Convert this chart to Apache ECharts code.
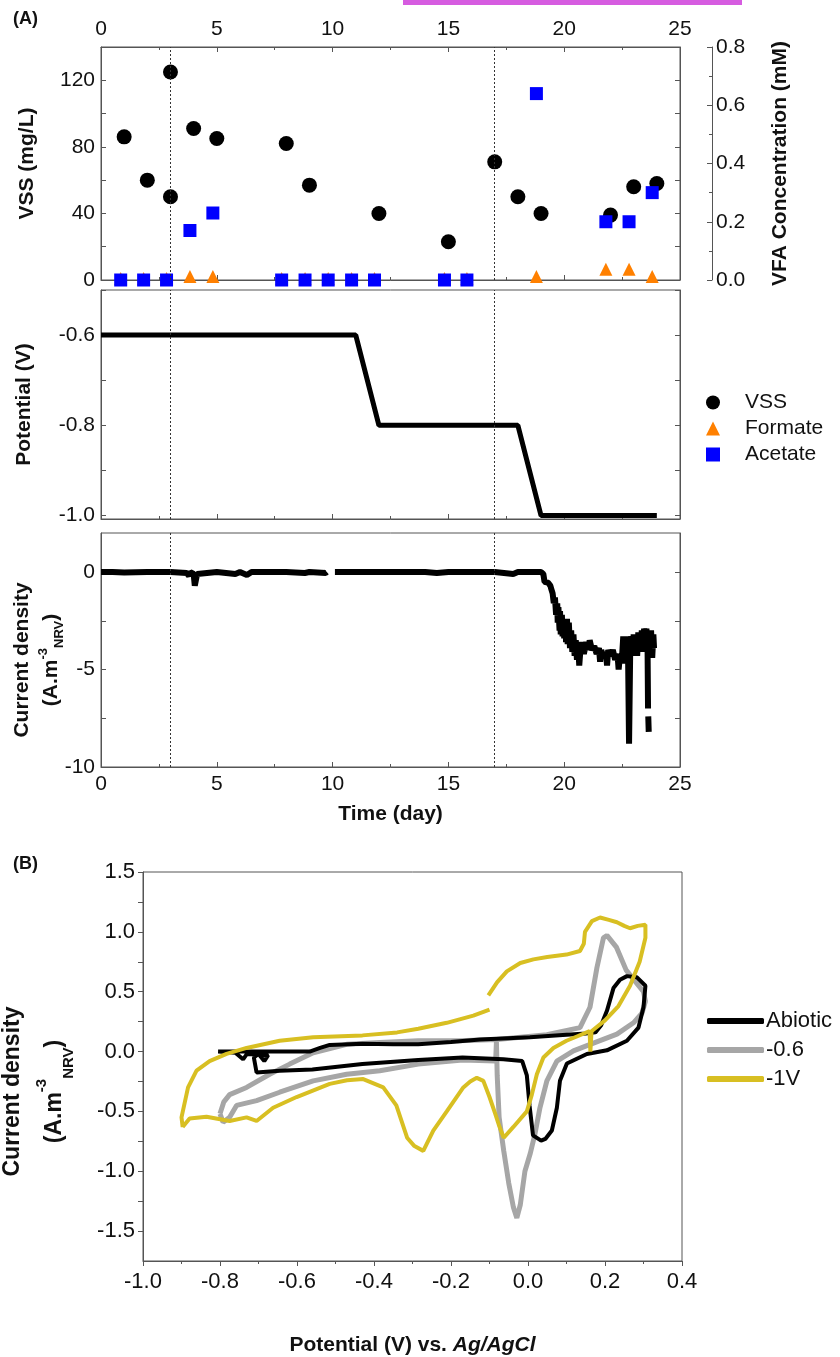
<!DOCTYPE html>
<html>
<head>
<meta charset="utf-8">
<script src="https://cdn.jsdelivr.net/npm/echarts@6.0.0/dist/echarts.min.js"></script>
<style>
  html, body { margin: 0; padding: 0; background: #fff; }
  #chart { width: 840px; height: 1357px; }
</style>
</head>
<body>
<div id="chart"></div>
<script>
// ---- panel A : VSS / VFA ----
const vssDays = [1, 2, 3, 3, 4, 5, 8, 9, 12, 15, 17, 18, 19, 22, 23, 24]
const vssValues = [86, 60, 125, 50, 91, 85, 82, 57, 40, 23, 71, 50, 40, 39, 56, 58]
const vfaDays = [0.85, 1.84, 2.83, 3.84, 4.83, 7.8, 8.81, 9.81, 10.82, 11.81, 14.83, 15.8, 18.8, 21.8, 22.8, 23.8]
const formateValues = [0.005, 0.005, 0.005, 0.012, 0.012, 0.005, 0.005, 0.005, 0.005, 0.005, 0.005, 0.005, 0.012, 0.037, 0.037, 0.012]
const acetateValues = [0, 0, 0, 0.17, 0.23, 0, 0, 0, 0, 0, 0, 0, 0.64, 0.2, 0.2, 0.3]

// ---- panel A : applied potential ----
const potentialDays = [0, 11, 12, 18, 19, 24]
const potentialValues = [-0.6, -0.6, -0.8, -0.8, -1.0, -1.0]

// ---- panel A : current density (null = gap in the record) ----
const currentDays = [0, 0.5, 1, 2, 3, 3.7, 3.8, 3.85, 4.0, 4.05, 4.12, 4.15, 4.2, 5, 5.8, 6, 6.3, 6.5, 7, 8, 8.8, 9, 9.7, 9.75, 9.9,
  10.1, 10.5, 11, 12, 13, 14, 14.5, 15, 16, 17, 17.8, 18, 18.5, 19.0,
  19.1, 19.15, 19.3, 19.4, 19.45, 19.5, 19.55, 19.6, 19.65, 19.7, 19.72, 19.75, 19.8, 19.82, 19.85, 19.9, 19.93, 19.97,
  20.0, 20.05, 20.08, 20.12, 20.15, 20.2, 20.25, 20.3, 20.35, 20.4, 20.45, 20.5, 20.55, 20.6, 20.65, 20.7, 20.75, 20.85,
  20.95, 21.05, 21.1, 21.2, 21.3, 21.4, 21.5, 21.55, 21.6, 21.7, 21.8, 21.85, 21.9, 22.0, 22.1, 22.2, 22.3, 22.35, 22.4,
  22.5, 22.55, 22.6, 22.65, 22.7, 22.75, 22.8, 22.85, 22.9, 22.95, 23.0, 23.05, 23.1, 23.15, 23.2, 23.3, 23.35, 23.4,
  23.45, 23.5, 23.55, 23.6, 23.62, 23.625, 23.63, 23.65, 23.66, 23.7, 23.75, 23.8, 23.85, 23.88]
const currentValues = [0, 0, -0.02, 0, 0, -0.05, -0.2, 0, -0.1, -0.7, -0.7, -0.1, 0, 0, -0.1, 0, -0.15, 0, 0, 0, -0.05, 0, -0.05, 0, null,
  0, 0, 0, 0, 0, 0, -0.05, 0, 0, 0, -0.1, 0, 0, 0,
  -0.1, -0.5, -0.55, -0.7, -0.9, -1.1, -1.6, -1.3, -2.2, -1.6, -2.6, -1.8, -3.0, -2.0, -3.2, -2.2, -3.3, -2.4,
  -3.4, -2.4, -3.6, -2.4, -3.7, -2.6, -3.9, -3.0, -4.1, -3.2, -4.3, -3.5, -4.5, -3.7, -4.8, -4.0, -3.6, -4.2,
  -3.6, -4.0, -3.5, -4.0, -3.8, -4.2, -3.9, -4.6, -4.0, -4.4, -4.1, -4.8, -4.0, -4.3, -4.0, -4.5, -4.2, -5.0, -4.4,
  -4.3, -3.3, -4.7, -3.3, -4.4, -3.4, -8.8, -4.0, -3.3, -4.3, -3.2, -4.2, -3.2, -4.3, -3.1, -4.0, -3.0, -4.1,
  -2.9, -3.8, -2.9, -4.0, -7.0, null, -7.4, -8.2, null, -3.6, -3.0, -4.4, -3.2, -3.9]

const phaseChanges = [3, 17]

// ---- panel B : cyclic voltammograms [V, J] ----
const cvAbiotic = [[-0.805, 0.0], [-0.70, 0.0], [-0.62, 0.0], [-0.567, 0.0], [-0.54, 0.03], [-0.515, 0.055], [-0.43, 0.065],
  [-0.35, 0.06], [-0.285, 0.06], [-0.2, 0.08], [-0.125, 0.10], [0.005, 0.12], [0.10, 0.14], [0.15, 0.15], [0.175, 0.16],
  [0.19, 0.22], [0.205, 0.34], [0.222, 0.53], [0.239, 0.60], [0.257, 0.63], [0.283, 0.62], [0.305, 0.55], [0.30, 0.37],
  [0.287, 0.20], [0.257, 0.09], [0.205, 0.01], [0.153, -0.02], [0.101, -0.10], [0.083, -0.245], [0.075, -0.47], [0.062, -0.66],
  [0.045, -0.73], [0.034, -0.745], [0.013, -0.70], [0.004, -0.45], [-0.003, -0.2], [-0.015, -0.08], [-0.064, -0.065],
  [-0.17, -0.05], [-0.285, -0.07], [-0.43, -0.105], [-0.56, -0.15], [-0.645, -0.16], [-0.705, -0.175], [-0.712, -0.05],
  [-0.70, -0.02], [-0.685, -0.08], [-0.675, -0.03], [-0.73, -0.02], [-0.74, -0.065], [-0.76, -0.01], [-0.805, 0.0]]
const cvMinus06 = [[-0.80, -0.52], [-0.79, -0.42], [-0.775, -0.36], [-0.731, -0.30], [-0.671, -0.19], [-0.619, -0.105],
  [-0.558, -0.01], [-0.471, 0.06], [-0.385, 0.075], [-0.285, 0.09], [-0.18, 0.09], [-0.081, 0.10], [0.049, 0.14],
  [0.135, 0.20], [0.161, 0.37], [0.179, 0.70], [0.196, 0.95], [0.205, 0.97], [0.23, 0.87], [0.255, 0.68], [0.28, 0.58],
  [0.30, 0.50], [0.305, 0.42], [0.296, 0.32], [0.274, 0.24], [0.231, 0.145], [0.17, 0.07], [0.118, 0.005], [0.075, -0.08],
  [0.049, -0.245], [0.031, -0.47], [0.018, -0.69], [0.006, -0.85], [-0.008, -1.0], [-0.02, -1.28], [-0.029, -1.39],
  [-0.038, -1.3], [-0.05, -1.1], [-0.063, -0.83], [-0.075, -0.55], [-0.08, -0.2], [-0.082, 0.08], [-0.084, -0.08],
  [-0.17, -0.07], [-0.285, -0.105], [-0.385, -0.16], [-0.471, -0.19], [-0.558, -0.245], [-0.645, -0.34], [-0.705, -0.41],
  [-0.757, -0.45], [-0.775, -0.55], [-0.792, -0.59], [-0.80, -0.52]]
const cvMinus1 = [[-0.897, -0.63], [-0.90, -0.55], [-0.883, -0.30], [-0.861, -0.16], [-0.827, -0.08], [-0.783, -0.02],
  [-0.731, 0.03], [-0.645, 0.09], [-0.558, 0.12], [-0.43, 0.135], [-0.34, 0.16], [-0.285, 0.19], [-0.211, 0.24],
  [-0.142, 0.30], [-0.10, 0.35], [null, null], [-0.103, 0.47], [-0.08, 0.58], [-0.055, 0.67], [-0.02, 0.74], [0.014, 0.77],
  [0.05, 0.79], [0.10, 0.81], [0.135, 0.84], [0.145, 0.90], [0.148, 1.0], [0.166, 1.09], [0.187, 1.12], [0.21, 1.10],
  [0.231, 1.08], [0.25, 1.05], [0.265, 1.03], [0.285, 1.05], [0.305, 1.06], [0.305, 0.95], [0.29, 0.75], [0.265, 0.55],
  [0.235, 0.38], [0.20, 0.26], [0.165, 0.17], [0.162, 0.0], [0.16, 0.17], [0.13, 0.13], [0.10, 0.09], [0.066, 0.03],
  [0.04, -0.05], [0.023, -0.19], [0.01, -0.36], [-0.003, -0.50], [-0.038, -0.63], [-0.063, -0.72], [-0.075, -0.62],
  [-0.085, -0.52], [-0.10, -0.38], [-0.116, -0.245], [-0.133, -0.22], [-0.15, -0.25], [-0.168, -0.30], [-0.211, -0.50],
  [-0.246, -0.66], [-0.272, -0.83], [-0.295, -0.79], [-0.314, -0.72], [-0.342, -0.45], [-0.376, -0.30], [-0.428, -0.23],
  [-0.47, -0.24], [-0.515, -0.27], [-0.601, -0.38], [-0.662, -0.47], [-0.705, -0.58], [-0.731, -0.55], [-0.775, -0.58],
  [-0.835, -0.545], [-0.879, -0.56], [-0.897, -0.63]]

const FONT = '"Liberation Sans", Arial, sans-serif'
const INK = '#111'
const AXIS = '#555'

const pair = (xs, ys) => xs.map((x, i) => [x, ys[i]])

const lineA = { show: true, onZero: false, lineStyle: { color: AXIS, width: 1 } }
const tickIn = { show: true, inside: true, length: 5, lineStyle: { color: AXIS } }
const minorIn = { show: true, splitNumber: 2, length: 3, lineStyle: { color: AXIS } }
const labelA = { fontSize: 21, color: INK, fontFamily: FONT }
const nameBold = { fontSize: 21, fontWeight: 'bold', color: INK, fontFamily: FONT }

const dayAxis = (gridIndex, position, showLabels) => ({
  type: 'value', gridIndex, position, min: 0, max: 25, interval: 5,
  axisLine: lineA, axisTick: tickIn, minorTick: minorIn,
  axisLabel: { show: showLabels, margin: 7, ...labelA },
  splitLine: { show: false }
})

const dividerLine = {
  silent: true,
  symbol: ['none', 'none'],
  label: { show: false },
  lineStyle: { type: [2, 2], color: '#333', width: 1 },
  data: phaseChanges.map(d => ({ xAxis: d }))
}

// two-line "Current density (A.m-3 NRV)" axis title
const densityName = (size, lh, small) => ({
  t: { fontSize: size, fontWeight: 'bold', color: INK, fontFamily: FONT, lineHeight: lh },
  sup: { fontSize: small, fontWeight: 'bold', color: INK, fontFamily: FONT, verticalAlign: 'top', lineHeight: small },
  sub: { fontSize: small, fontWeight: 'bold', color: INK, fontFamily: FONT, verticalAlign: 'bottom', lineHeight: small }
})

const frame = { show: true, borderColor: AXIS, borderWidth: 1, outerBoundsMode: 'none', containLabel: false }

const chart = echarts.init(document.getElementById('chart'), null, { renderer: 'canvas' })

chart.setOption({
  animation: false,
  backgroundColor: '#fff',
  textStyle: { fontFamily: FONT },
  graphic: [
    { type: 'rect', left: 403, top: 0, shape: { width: 339, height: 5 }, style: { fill: '#D65CE0' } },
    { type: 'text', left: 13, top: 10, style: { text: '(A)', font: 'bold 18px ' + FONT, fill: INK } },
    { type: 'text', left: 13, top: 855, style: { text: '(B)', font: 'bold 18px ' + FONT, fill: INK } }
  ],
  grid: [
    { left: 101, top: 47, width: 579, height: 233, ...frame },
    { left: 101, top: 290, width: 579, height: 229, ...frame },
    { left: 101, top: 533, width: 579, height: 234, ...frame },
    { left: 143, top: 872, width: 539, height: 389, ...frame }
  ],
  legend: [
    {
      data: ['VSS', 'Formate', 'Acetate'],
      orient: 'vertical', left: 706, top: 392, padding: 0,
      itemWidth: 14, itemHeight: 14, itemGap: 5,
      textStyle: { fontSize: 21, lineHeight: 20, color: INK, fontFamily: FONT, padding: [0, 0, 0, 20] }
    },
    {
      data: ['Abiotic', '-0.6', '-1V'],
      orient: 'vertical', left: 707, top: 1010, padding: 0,
      icon: 'roundRect', itemWidth: 57, itemHeight: 6, itemGap: 7,
      textStyle: { fontSize: 22, lineHeight: 22, color: INK, fontFamily: FONT, padding: [0, 0, 0, -3] }
    }
  ],
  xAxis: [
    dayAxis(0, 'top', true),
    dayAxis(0, 'bottom', false),
    dayAxis(1, 'bottom', false),
    {
      ...dayAxis(2, 'bottom', true),
      name: 'Time (day)', nameLocation: 'middle', nameGap: 37, nameTextStyle: nameBold
    },
    {
      type: 'value', gridIndex: 3, position: 'bottom', min: -1.0, max: 0.4, interval: 0.2,
      axisLine: lineA,
      axisTick: { show: true, inside: false, length: 5, lineStyle: { color: AXIS } },
      minorTick: { show: true, splitNumber: 2, length: 3, lineStyle: { color: AXIS } },
      axisLabel: {
        fontSize: 22, color: INK, fontFamily: FONT, margin: 10,
        formatter: v => (Math.abs(v) < 1e-9 ? 0 : v).toFixed(1)
      },
      splitLine: { show: false },
      name: '{b|Potential (V) vs. }{i|Ag/AgCl}',
      nameLocation: 'middle', nameGap: 74,
      nameTextStyle: {
        rich: {
          b: { fontSize: 21, fontWeight: 'bold', color: INK, fontFamily: FONT },
          i: { fontSize: 21, fontWeight: 'bold', fontStyle: 'italic', color: INK, fontFamily: FONT }
        }
      }
    }
  ],
  yAxis: [
    {
      type: 'value', gridIndex: 0, position: 'left', min: 0, max: 140, interval: 20,
      axisLine: lineA, axisTick: tickIn,
      axisLabel: { margin: 6, ...labelA, formatter: v => (v % 40 === 0 ? v : '') },
      splitLine: { show: false },
      name: 'VSS (mg/L)', nameLocation: 'middle', nameGap: 63, nameTextStyle: nameBold
    },
    {
      type: 'value', gridIndex: 0, position: 'right', offset: 32, min: 0, max: 0.8, interval: 0.2,
      axisLine: lineA, axisTick: tickIn, minorTick: minorIn,
      axisLabel: { margin: 4, ...labelA, formatter: v => v.toFixed(1) },
      splitLine: { show: false },
      name: 'VFA Concentration (mM)', nameLocation: 'middle', nameGap: 58, nameTextStyle: nameBold
    },
    {
      type: 'value', gridIndex: 0, position: 'right', min: 0, max: 140, interval: 20,
      axisLine: lineA, axisTick: tickIn, axisLabel: { show: false }, splitLine: { show: false }
    },
    {
      type: 'value', gridIndex: 1, position: 'left', min: -1.0075, max: -0.5,
      axisLine: lineA,
      axisTick: { ...tickIn, customValues: [-1.0, -0.9, -0.8, -0.7, -0.6, -0.5] },
      axisLabel: { margin: 6, ...labelA, customValues: [-1.0, -0.8, -0.6], formatter: v => v.toFixed(1) },
      splitLine: { show: false },
      name: 'Potential (V)', nameLocation: 'middle', nameGap: 66, nameTextStyle: nameBold
    },
    {
      type: 'value', gridIndex: 1, position: 'right', min: -1.0075, max: -0.5,
      axisLine: lineA,
      axisTick: { ...tickIn, customValues: [-1.0, -0.9, -0.8, -0.7, -0.6, -0.5] },
      axisLabel: { show: false }, splitLine: { show: false }
    },
    {
      type: 'value', gridIndex: 2, position: 'left', min: -10, max: 2,
      axisLine: lineA,
      axisTick: { ...tickIn, customValues: [-10, -7.5, -5, -2.5, 0] },
      axisLabel: { margin: 6, ...labelA, customValues: [-10, -5, 0] },
      splitLine: { show: false },
      name: '{t|Current density}\n{t|(A.m}{sup|-3}{sub|NRV}{t|)}',
      nameLocation: 'middle', nameGap: 35, nameMoveOverlap: false,
      nameTextStyle: { padding: [0, 20, 0, 0], rich: densityName(21, 29, 13) }
    },
    {
      type: 'value', gridIndex: 2, position: 'right', min: -10, max: 2,
      axisLine: lineA,
      axisTick: { ...tickIn, customValues: [-10, -7.5, -5, -2.5, 0] },
      axisLabel: { show: false }, splitLine: { show: false }
    },
    {
      type: 'value', gridIndex: 3, position: 'left', min: -1.75, max: 1.5,
      axisLine: lineA,
      axisTick: { show: true, inside: false, length: 5, lineStyle: { color: AXIS },
        customValues: [-1.5, -1.25, -1.0, -0.75, -0.5, -0.25, 0, 0.25, 0.5, 0.75, 1.0, 1.25, 1.5] },
      axisLabel: {
        margin: 8, fontSize: 22, color: INK, fontFamily: FONT,
        customValues: [-1.5, -1.0, -0.5, 0, 0.5, 1.0, 1.5],
        formatter: v => v.toFixed(1)
      },
      splitLine: { show: false },
      name: '{t|Current density}\n{t|(A.m}{sup|-3}{sub|NRV}{t|)}',
      nameLocation: 'middle', nameGap: 67,
      nameTextStyle: { padding: [0, 50, 0, 0], rich: densityName(23, 42, 15) }
    }
  ],
  series: [
    {
      name: 'VSS', type: 'scatter', xAxisIndex: 1, yAxisIndex: 0,
      symbol: 'circle', symbolSize: 15, itemStyle: { color: '#000', opacity: 1 },
      data: pair(vssDays, vssValues),
      markLine: dividerLine
    },
    {
      name: 'Formate', type: 'scatter', xAxisIndex: 1, yAxisIndex: 1,
      symbol: 'triangle', symbolSize: 13, itemStyle: { color: '#FF8000', opacity: 1 },
      data: pair(vfaDays, formateValues)
    },
    {
      name: 'Acetate', type: 'scatter', xAxisIndex: 1, yAxisIndex: 1,
      symbol: 'rect', symbolSize: 13, itemStyle: { color: '#0000FF', opacity: 1 },
      data: pair(vfaDays, acetateValues)
    },
    {
      name: 'Potential', type: 'line', xAxisIndex: 2, yAxisIndex: 3,
      showSymbol: false, lineStyle: { color: '#000', width: 5 },
      data: pair(potentialDays, potentialValues),
      markLine: dividerLine
    },
    {
      name: 'Current', type: 'line', xAxisIndex: 3, yAxisIndex: 5,
      showSymbol: false, connectNulls: false, lineStyle: { color: '#000', width: 6 },
      data: pair(currentDays, currentValues),
      markLine: dividerLine
    },
    {
      name: '-0.6', type: 'line', xAxisIndex: 4, yAxisIndex: 7,
      showSymbol: false, itemStyle: { color: '#A6A6A6' }, lineStyle: { color: '#A6A6A6', width: 5 },
      data: cvMinus06
    },
    {
      name: 'Abiotic', type: 'line', xAxisIndex: 4, yAxisIndex: 7,
      showSymbol: false, itemStyle: { color: '#000' }, lineStyle: { color: '#000', width: 4 },
      data: cvAbiotic
    },
    {
      name: '-1V', type: 'line', xAxisIndex: 4, yAxisIndex: 7,
      showSymbol: false, connectNulls: false, itemStyle: { color: '#D8BF22' }, lineStyle: { color: '#D8BF22', width: 4 },
      data: cvMinus1
    }
  ]
})
</script>
</body>
</html>
